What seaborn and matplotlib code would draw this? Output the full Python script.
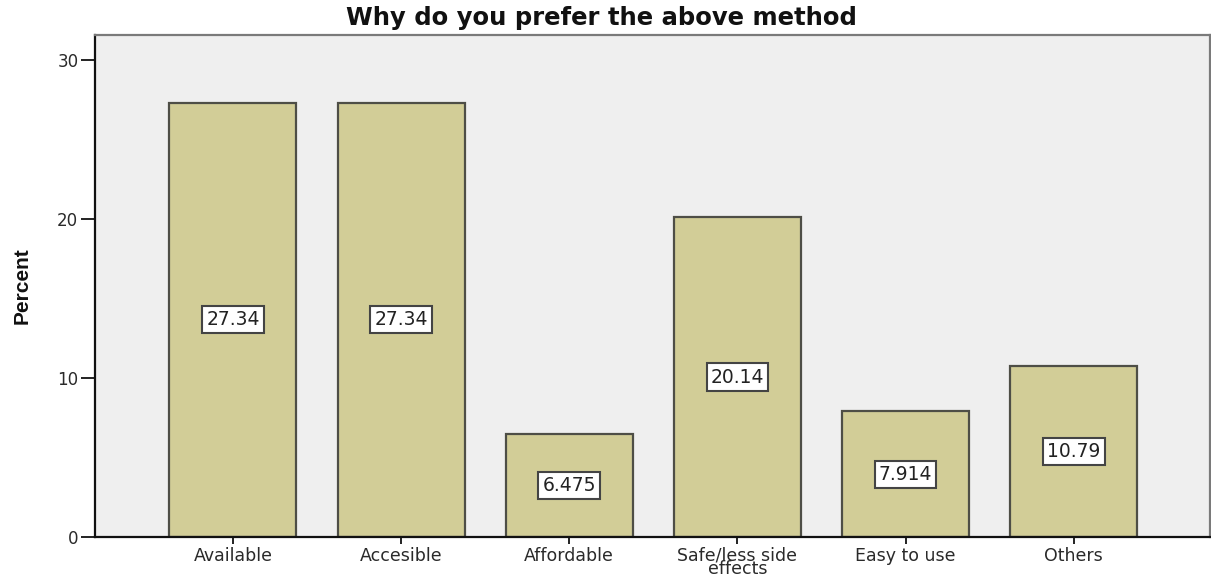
import matplotlib
matplotlib.use("Agg")
import matplotlib.pyplot as plt
import seaborn as sns
import pandas as pd

# Survey responses: reason for preferring the chosen method
categories = ["Available", "Accesible", "Affordable", "Safe/less side\neffects", "Easy to use", "Others"]
percent = [27.34, 27.34, 6.475, 20.14, 7.914, 10.79]
y_ticks = [0, 10, 20, 30]

df = pd.DataFrame({"reason": categories, "percent": percent})

sns.set_theme(style="white")
plt.rcParams["font.family"] = ["DejaVu Sans"]

W, H = 1211, 577
fig = plt.figure(figsize=(W / 100, H / 100), dpi=100)
ax = fig.add_axes([95 / W, 1 - 537 / H, (1210 - 95) / W, (537 - 35) / H])
ax.set_facecolor("#EFEFEF")

sns.barplot(data=df, x="reason", y="percent", ax=ax, color="#D2CD97",
            saturation=1, width=0.756, edgecolor="#4E4E46", linewidth=1.6)

ax.set_xlim(-0.82, 5.81)
ax.set_ylim(0, 31.6)
ax.set_yticks(y_ticks)
ax.set_yticklabels([str(t) for t in y_ticks], fontsize=12, color="#2A2A2A")
ax.set_xticks(range(len(categories)))
ax.set_xticklabels(categories, fontsize=12.5, color="#2A2A2A", linespacing=0.68)
ax.set_xlabel("")
ax.set_ylabel("")
ax.tick_params(axis="y", direction="out", length=10, width=1.4, color="#222222", pad=2, left=True)
ax.tick_params(axis="x", direction="out", length=5, width=1.4, color="#222222", pad=2, bottom=True)

for side in ["left", "bottom"]:
    ax.spines[side].set_color("#111111")
    ax.spines[side].set_linewidth(1.6)
for side in ["top", "right"]:
    ax.spines[side].set_color("#7A7A7A")
    ax.spines[side].set_linewidth(1.6)

# value labels in white boxes at bar mid-height
labels = [f"{v:.4g}" for v in percent]
ax.bar_label(ax.containers[0], labels=labels, label_type="center", fontsize=13.5,
             color="#222222",
             bbox=dict(boxstyle="square,pad=0.22", facecolor="white",
                       edgecolor="#444444", linewidth=1.5))

fig.text(601 / W, 1 - 18 / H, "Why do you prefer the above method",
         ha="center", va="center", fontsize=17.5, fontweight="bold",
         family=["DejaVu Sans"], color="#111111")
fig.text(22 / W, 1 - 286 / H, "Percent", rotation=90, ha="center", va="center",
         fontsize=15, fontweight="bold",
         family=["Liberation Sans Narrow", "Liberation Sans", "DejaVu Sans"], color="#111111")

fig.savefig("out.png", dpi=100, facecolor="white")
